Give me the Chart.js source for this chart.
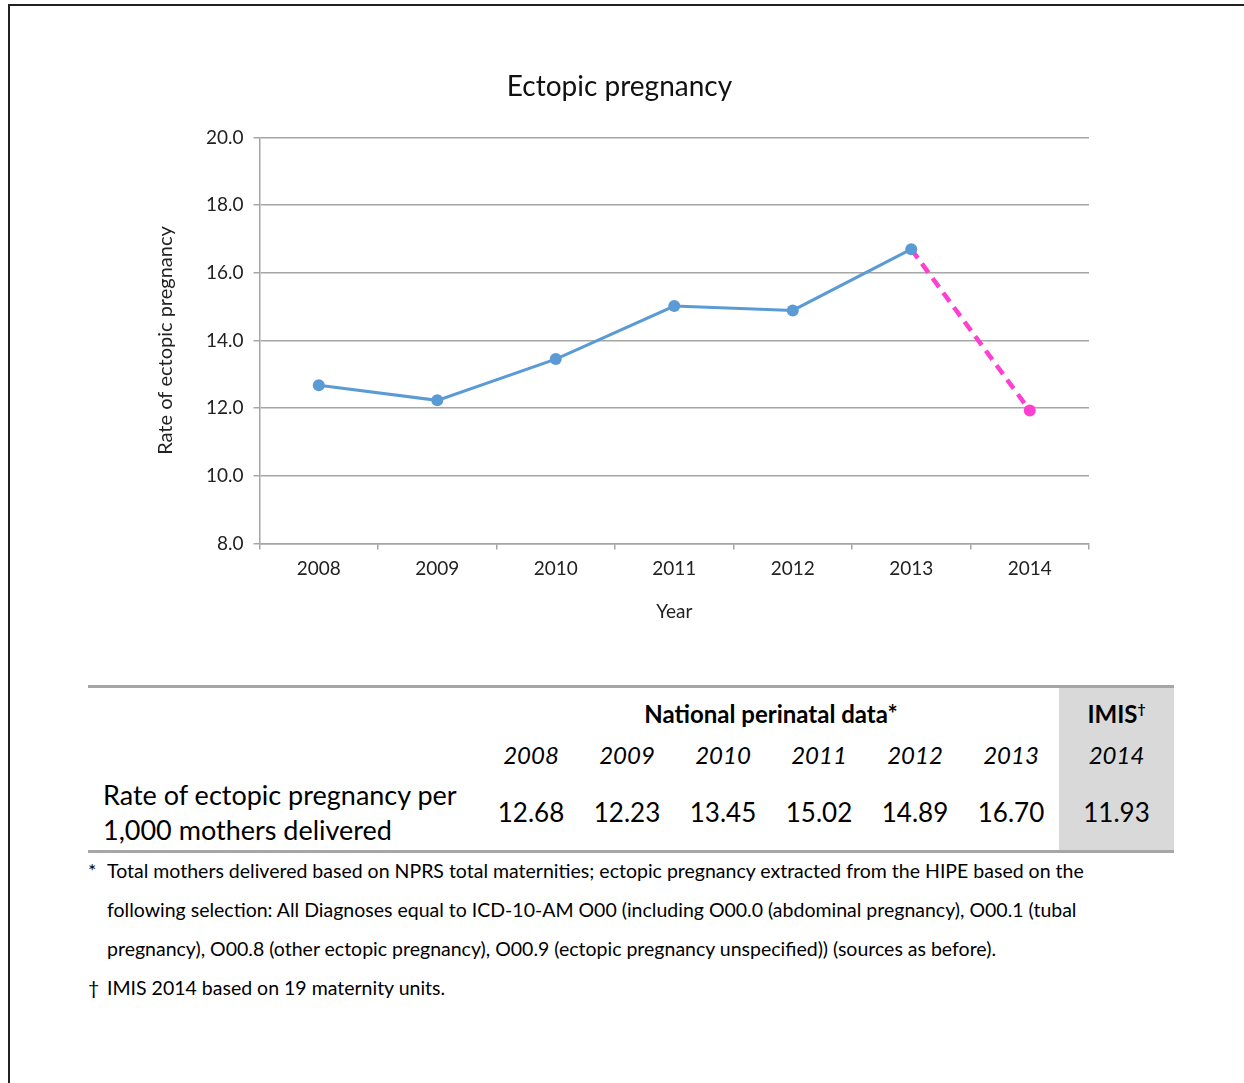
<!DOCTYPE html>
<html>
<head>
<meta charset="utf-8">
<script src="https://cdn.jsdelivr.net/npm/chart.js@4.4.1/dist/chart.umd.min.js"></script>
<style>
  body { margin: 0; background: #fff; font-family: Lato, "Open Sans", sans-serif; color: #000; }
  .page { position: relative; width: 1244px; height: 1083px; overflow: hidden; }
  .frame { position: absolute; left: 8px; top: 4px; width: 1240px; height: 1090px;
           border-top: 2px solid #222; border-left: 2px solid #222; }
  .chart-box { position: absolute; left: 0; top: 40px; width: 1244px; height: 587px; }
  table.rates { position: absolute; left: 88px; top: 685px; width: 1086px;
                border-collapse: collapse; border-top: 3px solid #a6a6a6; border-bottom: 3px solid #a6a6a6; }
  table.rates td { padding: 0; text-align: center; font-size: 26px; line-height: 30px; }
  table.rates .imis { background: #d9d9d9; width: 115px; }
  table.rates tr.r1 td { height: 44px; }
  table.rates tr.r2 td { height: 38px; }
  table.rates tr.r3 td { height: 76px; }
  table.rates .hdr { font-weight: bold; font-size: 24px; padding-top: 4px; }
  table.rates .hdr sup { font-size: 14px; line-height: 0; }
  table.rates .yr { font-style: italic; font-size: 24px; }
  table.rates tr.r3 td.lbl { text-align: left; padding-left: 15px; line-height: 35px; font-size: 27px; }
  table.rates .num { width: 96px; }
  .notes { position: absolute; left: 88px; top: 851px; font-size: 19.5px; line-height: 39px; white-space: nowrap; }
  .notes div { padding-left: 19px; text-indent: -19px; }
  .notes span.m { display: inline-block; width: 19px; text-indent: 0; }
</style>
</head>
<body>
<div class="page">
  <div class="frame"></div>
  <div class="chart-box"><canvas id="chart1"></canvas></div>
  <table class="rates" id="rates"></table>
  <div class="notes">
    <div><span class="m">*</span>Total mothers delivered based on NPRS total maternities; ectopic pregnancy extracted from the HIPE based on the<br>following selection: All Diagnoses equal to ICD-10-AM O00 (including O00.0 (abdominal pregnancy), O00.1 (tubal<br>pregnancy), O00.8 (other ectopic pregnancy), O00.9 (ectopic pregnancy unspecified)) (sources as before).</div>
    <div><span class="m">&dagger;</span>IMIS 2014 based on 19 maternity units.</div>
  </div>
</div>
<script>
// rates per 1,000 mothers delivered
const years = ["2008", "2009", "2010", "2011", "2012", "2013", "2014"];
const nationalRates = [12.68, 12.23, 13.45, 15.02, 14.89, 16.70];
const imisRate = 11.93;
const yTicks = [8, 10, 12, 14, 16, 18, 20];

const blue = "#5b9bd5";
const pink = "#ff3fcf";

// national line stops at 2013, IMIS dashed link from 2013 to 2014
const nationalLine = nationalRates.concat([null]);
const imisLine = years.map(function (y, i) {
    if (i === nationalRates.length - 1) return nationalRates[i];
    if (i === years.length - 1) return imisRate;
    return null;
});

const chartEl = document.getElementById("chart1");

new Chart(chartEl, {
    type: "line",
    data: {
        labels: years,
        datasets: [{
            label: "National perinatal data",
            data: nationalLine,
            borderColor: blue,
            backgroundColor: blue,
            borderWidth: 3,
            pointRadius: 6,
            pointHoverRadius: 6,
            pointBorderWidth: 0,
            order: 0
        }, {
            label: "IMIS",
            data: imisLine,
            borderColor: pink,
            backgroundColor: pink,
            borderWidth: 4.5,
            borderDash: [11, 7],
            pointRadius: imisLine.map(function (v, i) { return i === years.length - 1 ? 6 : 0; }),
            pointBorderWidth: 0,
            order: 1
        }]
    },
    options: {
        responsive: true,
        maintainAspectRatio: false,
        animation: false,
        layout: { padding: { left: 150, right: 155, top: 10, bottom: 0 } },
        plugins: {
            legend: { display: false },
            tooltip: { enabled: false },
            title: {
                display: true,
                text: "Ectopic pregnancy",
                color: "#111",
                font: { family: "Lato", size: 28, weight: "normal" },
                padding: { top: 20, bottom: 34 }
            }
        },
        scales: {
            x: {
                offset: true,
                border: { color: "#a6a6a6", width: 1.5 },
                grid: { drawOnChartArea: false, drawTicks: true, tickLength: 6, color: "#a6a6a6", lineWidth: 1.5, offset: true },
                ticks: { color: "#222", font: { family: "Lato", size: 19 }, padding: 8, maxRotation: 0 },
                title: { display: true, text: "Year", color: "#222", font: { family: "Lato", size: 19 }, padding: { top: 12 } }
            },
            y: {
                min: 8,
                max: 20,
                afterBuildTicks: function (axis) {
                    axis.ticks = yTicks.map(function (v) { return { value: v }; });
                },
                border: { color: "#a6a6a6", width: 1.5 },
                grid: { color: "#a6a6a6", lineWidth: 1.5, tickLength: 6 },
                ticks: {
                    color: "#222",
                    font: { family: "Lato", size: 19 },
                    padding: 10,
                    callback: function (v) { return Number(v).toFixed(1); }
                },
                title: { display: true, text: "Rate of ectopic pregnancy", color: "#222", font: { family: "Lato", size: 20 }, padding: { bottom: 18 } }
            }
        }
    }
});

// table under the chart, filled from the same arrays
const tbl = document.getElementById("rates");
let html = "<tr class='r1'><td></td><td class='hdr' colspan='" + nationalRates.length + "'>National perinatal data*</td>" +
           "<td class='hdr imis'>IMIS<sup>&dagger;</sup></td></tr>";
html += "<tr class='r2'><td></td>";
for (let i = 0; i < nationalRates.length; i++) {
    html += "<td class='yr num'>" + years[i] + "</td>";
}
html += "<td class='yr imis'>" + years[years.length - 1] + "</td></tr>";
html += "<tr class='r3'><td class='lbl'>Rate of ectopic pregnancy per<br>1,000 mothers delivered</td>";
for (let i = 0; i < nationalRates.length; i++) {
    html += "<td class='num'>" + nationalRates[i].toFixed(2) + "</td>";
}
html += "<td class='imis'>" + imisRate.toFixed(2) + "</td></tr>";
tbl.innerHTML = html;
</script>
</body>
</html>
